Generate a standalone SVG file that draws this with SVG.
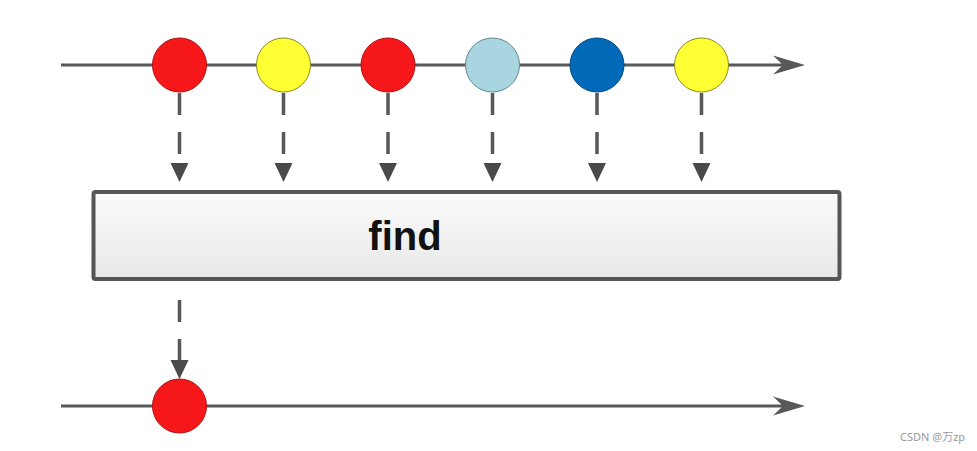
<svg xmlns="http://www.w3.org/2000/svg" width="977" height="451" viewBox="0 0 977 451">
<defs>
<linearGradient id="boxg" x1="0" y1="0" x2="0" y2="1">
<stop offset="0" stop-color="#fafafa"/>
<stop offset="1" stop-color="#e8e8e8"/>
</linearGradient>
<path id="tri" d="M-9,0 L9,0 L0,19 Z" fill="#4a4a4a"/>
</defs>
<style>
.line{stroke:#585858;stroke-width:3;fill:none}
.dash{stroke:#585858;stroke-width:3.5;fill:none;stroke-dasharray:22,17}
.head{fill:#585858}
.red{fill:#f5171a;stroke:#b01010;stroke-width:1}
.yellow{fill:#ffff33;stroke:#8a8a20;stroke-width:1}
.lblue{fill:#a8d5df;stroke:#5a8a95;stroke-width:1}
.dblue{fill:#0069b8;stroke:#004a85;stroke-width:1}
.lbl{font-family:"Liberation Sans",Arial,sans-serif;font-weight:bold;font-size:40px;fill:#111}
.wm{font-family:"Noto Sans","Noto Sans CJK SC",sans-serif;font-size:11px;fill:#9a9a9a}
</style>
<rect width="977" height="451" fill="#ffffff"/>
<g id="connectors">
<line class="line" x1="61" y1="65" x2="790" y2="65"/>
<path class="head" d="M805,65 L773,55.5 L783,65 L773,74.5 Z"/>
<line class="line" x1="61" y1="406" x2="790" y2="406"/>
<path class="head" d="M805,406 L773,396.5 L783,406 L773,415.5 Z"/>
<line class="dash" x1="179.5" y1="93" x2="179.5" y2="165"/>
<use href="#tri" x="179.5" y="163"/>
<line class="dash" x1="283.5" y1="93" x2="283.5" y2="165"/>
<use href="#tri" x="283.5" y="163"/>
<line class="dash" x1="388" y1="93" x2="388" y2="165"/>
<use href="#tri" x="388" y="163"/>
<line class="dash" x1="492.5" y1="93" x2="492.5" y2="165"/>
<use href="#tri" x="492.5" y="163"/>
<line class="dash" x1="597" y1="93" x2="597" y2="165"/>
<use href="#tri" x="597" y="163"/>
<line class="dash" x1="701.5" y1="93" x2="701.5" y2="165"/>
<use href="#tri" x="701.5" y="163"/>
<line class="dash" x1="179.5" y1="300" x2="179.5" y2="362"/>
<use href="#tri" x="179.5" y="360"/>
</g>
<g id="find">
<rect x="93.5" y="192" width="746" height="87" fill="url(#boxg)" stroke="#555555" stroke-width="4" rx="2"/>
<text class="lbl" x="405" y="250" text-anchor="middle">find</text>
</g>
<g id="in1"><circle class="red" cx="179.5" cy="65" r="27"/></g>
<g id="in2"><circle class="yellow" cx="283.5" cy="65" r="27"/></g>
<g id="in3"><circle class="red" cx="388" cy="65" r="27"/></g>
<g id="in4"><circle class="lblue" cx="492.5" cy="65" r="27"/></g>
<g id="in5"><circle class="dblue" cx="597" cy="65" r="27"/></g>
<g id="in6"><circle class="yellow" cx="701.5" cy="65" r="27"/></g>
<g id="out1"><circle class="red" cx="179.5" cy="406" r="27"/></g>
<text class="wm" x="900" y="441">CSDN @万zp</text>
</svg>
